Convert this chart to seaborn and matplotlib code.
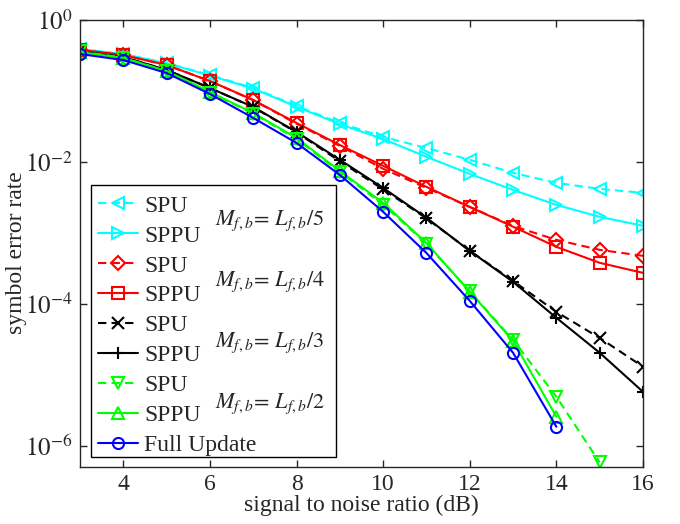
import numpy as np
import pandas as pd
import seaborn as sns
import matplotlib.pyplot as plt
from matplotlib.patches import Rectangle

# signal to noise ratio (dB)
snr = list(range(3, 17))

# symbol error rate
spu_5 = [0.39, 0.33, 0.248, 0.168, 0.110, 0.0615, 0.0354, 0.0225, 0.0157, 0.0107, 0.0070, 0.00506, 0.00417, 0.00366]
sppu_5 = [0.39, 0.33, 0.245, 0.165, 0.108, 0.060, 0.034, 0.021, 0.0118, 0.00678, 0.00403, 0.00248, 0.00168, 0.00126]
spu_4 = [0.38, 0.32, 0.232, 0.138, 0.0740, 0.0345, 0.0168, 0.0080, 0.0043, 0.00232, 0.00125, 7.97e-4, 5.76e-4, 4.74e-4]
sppu_4 = [0.38, 0.321, 0.232, 0.138, 0.0747, 0.0354, 0.0173, 0.0088, 0.00445, 0.00232, 0.00122, 6.35e-4, 3.78e-4, 2.73e-4]
spu_3 = [0.36, 0.30, 0.198, 0.110, 0.059, 0.026, 0.0102, 0.0041, 0.00160, 5.6e-4, 2.1e-4, 7.7e-5, 3.3e-5, 1.30e-5]
sppu_3 = [0.36, 0.301, 0.198, 0.110, 0.0595, 0.0265, 0.0107, 0.0043, 0.00163, 5.57e-4, 2.04e-4, 6.35e-5, 2.04e-5, 5.75e-6]
spu_2 = [0.36, 0.295, 0.19, 0.095, 0.048, 0.021, 0.0072, 0.0025, 7.0e-4, 1.5e-4, 3.1e-5, 4.9e-6, 5.8e-7]
sppu_2 = [0.354, 0.292, 0.191, 0.0968, 0.049, 0.0218, 0.00746, 0.00265, 7.2e-4, 1.48e-4, 3.0e-5, 2.56e-6]
full = [0.332, 0.273, 0.179, 0.0907, 0.0417, 0.0185, 0.00656, 0.00198, 5.2e-4, 1.10e-4, 2.04e-5, 1.85e-6]

series = [
    ("SPU", spu_5, "cyan", "--", "<"),
    ("SPPU", sppu_5, "cyan", "-", ">"),
    ("SPU", spu_4, "red", "--", "D"),
    ("SPPU", sppu_4, "red", "-", "s"),
    ("SPU", spu_3, "black", "--", "x"),
    ("SPPU", sppu_3, "black", "-", "+"),
    ("SPU", spu_2, "lime", "--", "v"),
    ("SPPU", sppu_2, "lime", "-", "^"),
    ("Full Update", full, "blue", "-", "o"),
]
groups = [r"$M_{f,b}\!=\,L_{f,b}/5$", r"$M_{f,b}\!=\,L_{f,b}/4$",
          r"$M_{f,b}\!=\,L_{f,b}/3$", r"$M_{f,b}\!=\,L_{f,b}/2$"]

sns.set_style("ticks")
plt.rcParams["font.family"] = ["Liberation Serif", "DejaVu Serif"]
plt.rcParams["mathtext.fontset"] = "stix"

fig = plt.figure(figsize=(6.8, 5.24), dpi=100)
ax = fig.add_axes([0.1176, 0.1088, 0.828, 0.853])

for label, vals, col, ls, mk in series:
    df = pd.DataFrame({"snr": snr[:len(vals)], "ser": vals})
    dash = (0, (4, 2.5)) if ls == "--" else "-"
    ms = 7 if mk == "D" else (9 if mk in "x+" else 8)
    sns.lineplot(data=df, x="snr", y="ser", ax=ax, color=col, linestyle=dash,
                 linewidth=1.5, marker=mk, markersize=ms, markerfacecolor="none",
                 markeredgecolor=col, markeredgewidth=1.5, label=label)

ax.set_yscale("log")
ax.set_xlim(3, 16)
ax.set_ylim(10 ** -6.3, 1)
ax.set_xticks(range(4, 17, 2))
ax.set_yticks([1, 1e-2, 1e-4, 1e-6])
ax.set_yticklabels([r"$10^{0}$", r"$10^{-2}$", r"$10^{-4}$", r"$10^{-6}$"])
ax.minorticks_off()
ax.tick_params(direction="in", length=5, width=1, top=True, right=True, labelsize=17, pad=5)
ax.tick_params(axis="y", labelsize=18)
for s in ax.spines.values():
    s.set_linewidth(1)
ax.set_xlabel("signal to noise ratio (dB)", fontsize=17, labelpad=0)
ax.set_ylabel("symbol error rate", fontsize=17)
ax.yaxis.set_label_coords(-0.094, 0.48)

# legend box
ax.add_patch(Rectangle((0.0195, 0.0224), 0.4352, 0.6086, transform=ax.transAxes,
                       facecolor="white", edgecolor="black", linewidth=1, zorder=5))
leg = ax.legend(loc="upper left", bbox_to_anchor=(0.02, 0.624), frameon=False,
                fontsize=17, handlelength=1.7, handletextpad=0.25, labelspacing=0.355,
                borderaxespad=0, borderpad=0.3)
leg.set_zorder(6)
for i, g in enumerate(groups):
    ax.text(0.24, 0.55 - i * 0.1365, g, transform=ax.transAxes, fontsize=16,
            va="center", ha="left", zorder=7)

fig.savefig("out.png", dpi=100)
